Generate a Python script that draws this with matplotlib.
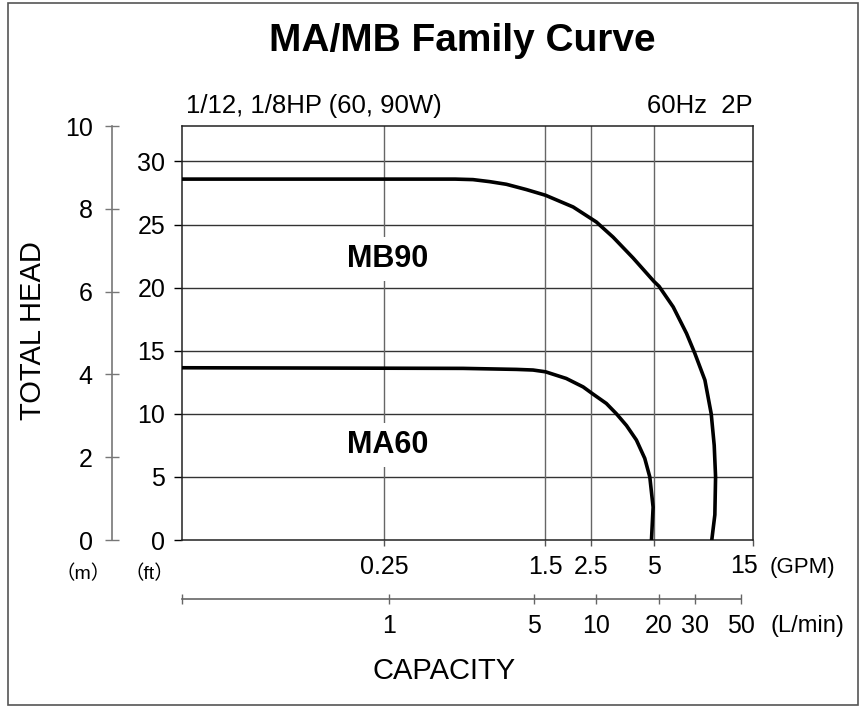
import matplotlib
matplotlib.use("Agg")
import matplotlib.pyplot as plt
from matplotlib.patches import Rectangle
from matplotlib.ticker import NullLocator, FixedLocator, FixedFormatter

plt.rcParams['font.family'] = ['Liberation Sans', 'Noto Sans CJK KR', 'DejaVu Sans']

# ---------------- data (GPM, ft) ----------------
mb90_gpm = [0.0264, 0.55, 0.67, 0.806, 0.971, 1.213, 1.5, 2.04, 2.64, 3.18, 3.97, 5.0, 5.3, 6.2, 7.19,
            7.89, 8.82, 9.46, 9.78, 9.93, 9.85, 9.52]
mb90_ft  = [28.6, 28.6, 28.56, 28.4, 28.19, 27.77, 27.32, 26.39, 25.2, 24.0, 22.35, 20.5, 20.1, 18.47, 16.37,
            14.78, 12.67, 10.0, 7.5, 5.0, 2.0, 0.0]

ma60_gpm = [0.0264, 0.6, 1.086, 1.306, 1.5, 1.89, 2.28, 2.52, 2.95, 3.30, 3.69, 4.12, 4.52, 4.78, 4.96, 4.87]
ma60_ft  = [13.65, 13.6, 13.52, 13.47, 13.33, 12.8, 12.13, 11.61, 10.82, 10.0, 9.07, 7.92, 6.47, 5.0, 2.6, 0.0]

gpm_ticks = [0.25, 1.5, 2.5, 5, 15]
gpm_labels = ['0.25', '1.5', '2.5', '5', '']
gpm_last_label = '15'
lmin_ticks = [0.1, 1, 5, 10, 20, 30, 50]
lmin_labels = ['', '1', '5', '10', '20', '30', '50']
ft_ticks = [0, 5, 10, 15, 20, 25, 30]
m_ticks = [0, 2, 4, 6, 8, 10]

L_PER_GAL = 3.78541
FT_PER_M = 3.28084

W, H = 866, 709
def fx(x): return x / W
def fy(y): return 1 - y / H

fig = plt.figure(figsize=(W / 100, H / 100), dpi=100)

left, right, top, bottom = 182, 752.7, 126, 540
ax = fig.add_axes([fx(left), fy(bottom), fx(right) - fx(left), fy(top) - fy(bottom)])
ax.set_xscale('log')
ax.set_xlim(0.1 / L_PER_GAL, 15)
ax.set_ylim(0, 10 * FT_PER_M)

ax.xaxis.set_major_locator(FixedLocator(gpm_ticks))
ax.xaxis.set_major_formatter(FixedFormatter(gpm_labels))
ax.xaxis.set_minor_locator(NullLocator())
ax.set_yticks(ft_ticks)
ax.set_yticklabels([str(t) for t in ft_ticks])
ax.tick_params(axis='y', direction='out', length=6, width=1, labelsize=18, pad=6)
ax.tick_params(axis='x', direction='out', length=4, width=1, labelsize=18, pad=7, color='#555')

for t in ft_ticks[1:]:
    ax.axhline(t, color='#333333', lw=1.0, zorder=1)
for t in gpm_ticks[:-1]:
    ax.axvline(t, color='#666666', lw=1.0, zorder=1)
for s in ax.spines.values():
    s.set_linewidth(1.1)
    s.set_color('#222222')

ax.plot(mb90_gpm, mb90_ft, color='black', lw=2.6, zorder=3, solid_joinstyle='round')
ax.plot(ma60_gpm, ma60_ft, color='black', lw=2.6, zorder=3, solid_joinstyle='round')

ax.text(0.259, 22.3, 'MB90', fontsize=22, fontweight='bold', ha='center', va='center',
        zorder=4, bbox=dict(facecolor='white', edgecolor='none', pad=5))
ax.text(0.259, 7.5, 'MA60', fontsize=22, fontweight='bold', ha='center', va='center',
        zorder=4, bbox=dict(facecolor='white', edgecolor='none', pad=5))

# meter axis
axm = fig.add_axes([fx(112), fy(bottom), 0.0005, fy(top) - fy(bottom)])
axm.set_ylim(0, 10)
axm.set_yticks(m_ticks)
axm.set_yticklabels([str(t) for t in m_ticks])
axm.set_xticks([])
axm.patch.set_visible(False)
for k in ['top', 'right', 'bottom']:
    axm.spines[k].set_visible(False)
axm.spines['left'].set_color('#777777')
axm.spines['left'].set_linewidth(1.2)
axm.tick_params(axis='y', direction='inout', length=10, width=1, color='#777777', labelsize=18, pad=9)

# L/min axis
axl = fig.add_axes([fx(left), fy(599), fx(right) - fx(left), 0.0005])
axl.set_xscale('log')
axl.set_xlim(0.1, 15 * L_PER_GAL)
axl.xaxis.set_major_locator(FixedLocator(lmin_ticks))
axl.xaxis.set_major_formatter(FixedFormatter(lmin_labels))
axl.xaxis.set_minor_locator(NullLocator())
axl.set_yticks([])
axl.patch.set_visible(False)
for k in ['top', 'right', 'left']:
    axl.spines[k].set_visible(False)
axl.spines['bottom'].set_bounds(0.1, 50)
axl.spines['bottom'].set_color('#666666')
axl.spines['bottom'].set_linewidth(1.2)
axl.tick_params(axis='x', direction='inout', length=7, width=1, color='#666666', labelsize=18, pad=7)

# texts
fig.text(fx(462), fy(51), 'MA/MB Family Curve', fontsize=28, fontweight='bold', ha='center', va='baseline')
fig.text(fx(186), fy(106), '1/12, 1/8HP (60, 90W)', fontsize=18.5, ha='left', va='center')
fig.text(fx(753), fy(106), '60Hz  2P', fontsize=18.5, ha='right', va='center')
fig.text(fx(33), fy(331), 'TOTAL HEAD', fontsize=21, rotation=90, ha='center', va='center')
fig.text(fx(444), fy(671), 'CAPACITY', fontsize=21, ha='center', va='center')
fig.text(fx(83), fy(574), '（m）', fontsize=14, ha='center', va='center')
fig.text(fx(149), fy(574), '（ft）', fontsize=14, ha='center', va='center')
fig.text(fx(744), fy(566), gpm_last_label, fontsize=18, ha='center', va='center')
fig.text(fx(770), fy(567), '(GPM)', fontsize=16, ha='left', va='center')
fig.text(fx(770), fy(626), '(L/min)', fontsize=17, ha='left', va='center')

fig.patches.append(Rectangle((fx(8), fy(705)), fx(858) - fx(8), fy(3) - fy(705),
                             transform=fig.transFigure, fill=False, edgecolor='#555555', lw=1.2))

fig.savefig('out.png', dpi=100)
